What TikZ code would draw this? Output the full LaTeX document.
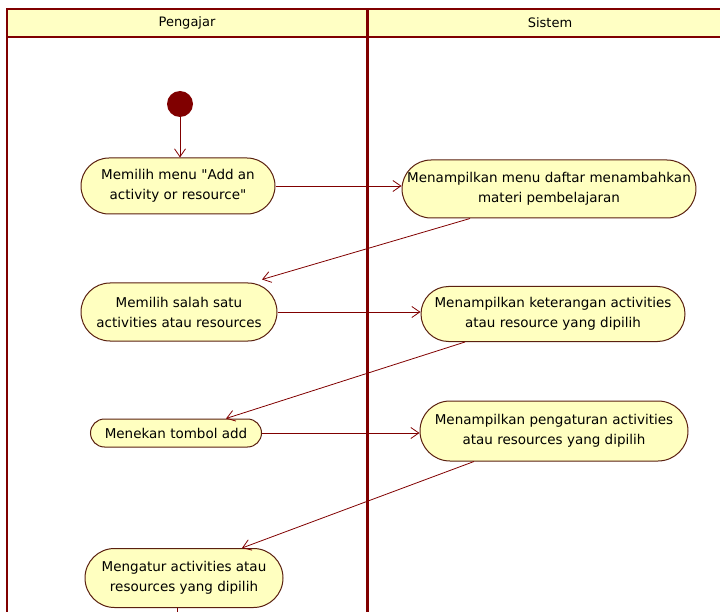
\documentclass[tikz,border=0pt]{standalone}
\usepackage{fontspec}
\setmainfont{DejaVu Sans}[Ligatures=TeXOff]
\usetikzlibrary{arrows.meta,shapes.misc,calc}
\definecolor{lanered}{RGB}{128,0,0}
\definecolor{actfill}{RGB}{255,255,192}
\definecolor{headfill}{RGB}{255,255,196}
\definecolor{actline}{RGB}{90,32,16}
\begin{document}
\begin{tikzpicture}[x=1pt,y=-1pt,
  activity/.style={rounded rectangle, draw=actline, line width=1pt, fill=actfill,
    align=center, inner sep=0pt, font=\fontsize{13.5}{20}\selectfont},
  flow/.style={draw=lanered, line width=0.8pt, -{Straight Barb[length=8pt,width=11pt]}},
  plainflow/.style={draw=lanered, line width=0.8pt},
  lanehead/.style={font=\fontsize{13}{16}\selectfont},
  initnode/.style={circle, fill=lanered, inner sep=0pt, minimum size=26pt}]
\useasboundingbox (0,0) rectangle (720,612);

% swimlane header and partitions
\fill[headfill] (7,9) rectangle (725,37);
\draw[lanered, line width=2pt] (725,9) -- (7,9) -- (7,616);
\draw[lanered, line width=2pt] (7,37) -- (725,37);
\draw[lanered, line width=3pt] (367,9) -- (367,616);
\node[lanehead] (hp) at (187,23) {Pengajar};
\node[lanehead] (hs) at (550,23) {Sistem};

% activities
\node[initnode] (init) at (180,104) {};
\node[activity, minimum width=194pt, minimum height=56pt] (n1) at (178,186)
  {Memilih menu "Add an\\activity or resource"};
\node[activity, minimum width=290pt, minimum height=58pt] (n2) at (549,189)
  {Menampilkan menu daftar menambahkan\\materi pembelajaran};
\node[activity, minimum width=196pt, minimum height=58pt] (n3) at (179,312)
  {Memilih salah satu\\activities atau resources};
\node[activity, minimum width=264pt, minimum height=55pt] (n4) at (553,314)
  {Menampilkan keterangan activities\\atau resource yang dipilih};
\node[activity, minimum width=171pt, minimum height=28pt] (n5) at (176,433)
  {Menekan tombol add};
\node[activity, minimum width=268pt, minimum height=60pt] (n6) at (554,431)
  {Menampilkan pengaturan activities\\atau resources yang dipilih};
\node[activity, minimum width=198pt, minimum height=59pt] (n7) at (184,578)
  {Mengatur activities atau\\resources yang dipilih};
\coordinate (out) at (177,616);

% control flows
\draw[flow] (init) -- (init |- n1.north);
\draw[flow] (n1.east) -- (n1.east -| n2.west);
\draw[flow] ([xshift=-79pt]n2.south) -- ([xshift=83pt,yshift=3pt]n3.north);
\draw[flow] (n3.east) -- (n3.east -| n4.west);
\draw[flow] ([xshift=-88pt]n4.south) -- ([xshift=50pt]n5.north);
\draw[flow] (n5.east) -- (n5.east -| n6.west);
\draw[flow] ([xshift=-80pt]n6.south) -- ([xshift=58pt]n7.north);
\draw[plainflow] (n7.south -| out) -- (out);
\end{tikzpicture}
\end{document}
